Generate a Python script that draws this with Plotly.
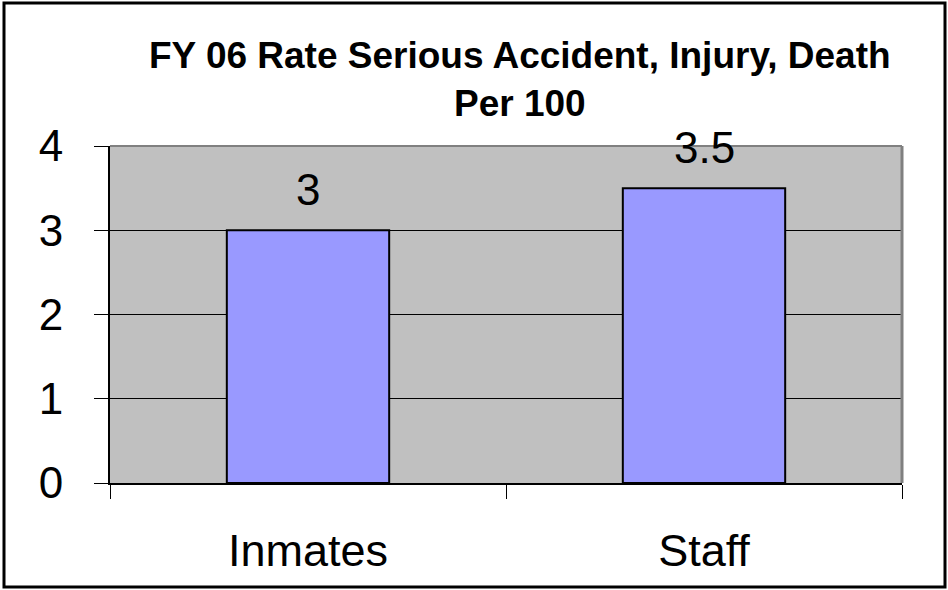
import plotly.graph_objects as go

categories = ["Inmates", "Staff"]
values = [3, 3.5]
value_labels = ["3", "3.5"]
title_lines = ["FY 06 Rate Serious Accident, Injury, Death", "Per 100"]

W, H = 948, 590
L, R, T, B = 110, 46, 146, 107
pw, ph = W - L - R, H - T - B

def px_x(px):
    return (px - L) / pw

def px_y(py):
    return (H - B - py) / ph

FONT = "Arial, Liberation Sans, sans-serif"

fig = go.Figure()
fig.add_trace(go.Bar(
    x=categories, y=values, width=0.41,
    marker=dict(color="#9999FF", line=dict(color="black", width=2)),
    hoverinfo="skip",
))

for c, v, t in zip(categories, values, value_labels):
    fig.add_annotation(x=c, y=v, text=t, showarrow=False, yanchor="bottom",
                       yshift=14, font=dict(family=FONT, size=44, color="black"))

fig.add_annotation(xref="paper", yref="paper", x=px_x(520), y=px_y(80),
                   text="<b>" + "<br>".join(title_lines) + "</b>",
                   showarrow=False, xanchor="center", yanchor="middle",
                   font=dict(family=FONT, size=37, color="black"))

# plot area border (top/right gray)
fig.add_shape(type="line", xref="paper", yref="paper", x0=0, x1=1, y0=1, y1=1,
              line=dict(color="#808080", width=2), layer="above")
fig.add_shape(type="line", xref="paper", yref="paper", x0=1, x1=1, y0=0, y1=1,
              line=dict(color="#808080", width=3), layer="above")
# outer frame
fig.add_shape(type="rect", xref="paper", yref="paper",
              x0=px_x(4), x1=px_x(945), y0=px_y(587), y1=px_y(3),
              line=dict(color="black", width=3), layer="above")

fig.update_layout(
    width=W, height=H,
    margin=dict(l=L, r=R, t=T, b=B, pad=0),
    paper_bgcolor="white", plot_bgcolor="#C0C0C0",
    showlegend=False,
    font=dict(family=FONT, color="black"),
    bargap=0.59,
)
fig.update_xaxes(
    type="category", showgrid=False, showline=True, linecolor="black", linewidth=2,
    ticks="outside", tickson="boundaries", ticklen=14, tickcolor="black", tickwidth=1,
    tickfont=dict(family=FONT, size=45, color="black"), ticklabelstandoff=27,
    fixedrange=True,
)
fig.update_yaxes(
    range=[0, 4], dtick=1, showgrid=True, gridcolor="black", gridwidth=1,
    showline=True, linecolor="black", linewidth=2, zeroline=False,
    ticks="outside", ticklen=14, tickcolor="black", tickwidth=1,
    tickfont=dict(family=FONT, size=44, color="black"), ticklabelstandoff=22,
    fixedrange=True,
)

fig.write_html("out.html", config={"displayModeBar": False},
               post_script="document.body.style.margin='0px';document.body.style.overflow='hidden';")
